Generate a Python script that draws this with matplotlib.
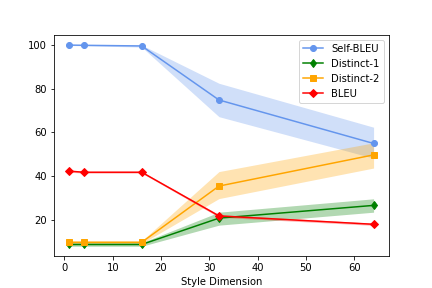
import matplotlib
matplotlib.use("Agg")
import matplotlib.pyplot as plt
import numpy as np

dims = [1, 4, 16, 32, 64]

self_bleu = [99.8, 99.7, 99.4, 74.8, 55.0]
self_bleu_lo = [99.6, 99.5, 98.9, 67.2, 48.3]
self_bleu_hi = [100.0, 99.9, 99.8, 82.4, 62.4]

distinct1 = [9.0, 9.0, 9.0, 21.0, 26.8]
distinct1_lo = [8.2, 8.2, 8.2, 17.8, 23.7]
distinct1_hi = [9.8, 9.8, 9.8, 23.7, 29.8]

distinct2 = [10.0, 10.0, 10.0, 35.6, 49.8]
distinct2_lo = [9.4, 9.4, 9.4, 29.9, 43.8]
distinct2_hi = [10.6, 10.6, 10.6, 42.2, 55.3]

bleu = [42.4, 41.9, 41.9, 22.0, 18.2]
bleu_lo = [41.9, 41.5, 41.5, 21.4, 17.7]
bleu_hi = [42.9, 42.3, 42.3, 22.6, 18.7]

series = [
    ("Self-BLEU", self_bleu, self_bleu_lo, self_bleu_hi, "cornflowerblue", "o"),
    ("Distinct-1", distinct1, distinct1_lo, distinct1_hi, "green", "d"),
    ("Distinct-2", distinct2, distinct2_lo, distinct2_hi, "orange", "s"),
    ("BLEU", bleu, bleu_lo, bleu_hi, "red", "D"),
]

fig, ax = plt.subplots(figsize=(6, 4), dpi=72)
for name, vals, lo, hi, color, marker in series:
    ax.plot(dims, vals, marker=marker, color=color, label=name)
    ax.fill_between(dims, lo, hi, color=color, alpha=0.3, linewidth=0)

ax.set_xlabel("Style Dimension")
ax.legend(loc="upper right")
fig.savefig("out.png", dpi=72)
